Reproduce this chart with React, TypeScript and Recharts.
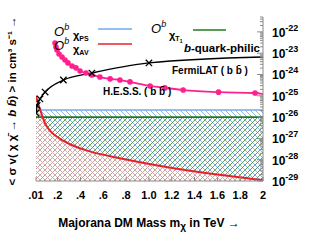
import React from 'react';
import { ComposedChart, Line, Area, XAxis, YAxis } from 'recharts';

// ---- data ----
const massTicks = [0.01, 0.2, 0.4, 0.6, 0.8, 1.0, 1.2, 1.4, 1.6, 1.8, 2.0];
const massTickLabels = ['.01', '.2', '.4', '.6', '.8', '1.0', '1.2', '1.4', '1.6', '1.8', '2'];
const decadeExponents = [-29, -28, -27, -26, -25, -24, -23, -22];

// H.E.S.S. (b b-bar)
const hessMass = [0.177, 0.185, 0.194, 0.212, 0.238, 0.264, 0.29, 0.326, 0.36, 0.396, 0.448, 0.5, 0.57, 0.66, 0.746, 0.834, 1.01, 1.14, 1.3, 1.61, 1.93, 2.0];
const hessSigma = [3.0e-23, 1.95e-23, 1.41e-23, 9.1e-24, 6.6e-24, 4.8e-24, 3.5e-24, 2.5e-24, 2.05e-24, 1.45e-24, 1.17e-24, 9.5e-25, 7.6e-25, 6.2e-25, 5.5e-25, 4.5e-25, 2.9e-25, 2.35e-25, 1.86e-25, 1.48e-25, 1.35e-25, 1.2e-25];

// FermiLAT (b b-bar)
const fermiMass = [0.01, 0.02, 0.045, 0.09, 0.25, 0.5, 1.0, 2.0];
const fermiSigma = [1.55e-26, 3.5e-26, 7.1e-26, 1.5e-25, 5.5e-25, 1.17e-24, 3.5e-24, 6.6e-24];
const fermiMarked = [true, true, true, true, true, true, true, false];

// O^b chi_AV
const avMass = [0.01, 0.019, 0.04, 0.063, 0.089, 0.159, 0.308, 0.483, 0.685, 0.92, 1.16, 1.58, 2.0];
const avSigma = [1.0e-25, 6.3e-26, 2.7e-26, 1.26e-26, 4.3e-27, 1.45e-27, 4.9e-28, 2.3e-28, 1.35e-28, 7.6e-29, 4.4e-29, 2.0e-29, 1.1e-29];

// O^b chi_PS and O^b chi_T1 (flat)
const flatMass = [0.01, 2.0];
const psSigma = [2.15e-26, 2.15e-26];
const t1Sigma = [1.0e-26, 1.0e-26];

// ---- build tables ----
const zip = (m: number[], v: number[]) => m.map((x, i) => ({ m: x, v: v[i] }));
const hessData = zip(hessMass, hessSigma);
const fermiData = fermiMass.map((x, i) => ({ m: x, v: fermiSigma[i], mark: fermiMarked[i] }));
const avData = zip(avMass, avSigma);
const psData = zip(flatMass, psSigma);
const t1Data = zip(flatMass, t1Sigma);

const Y_MIN = 1e-29;
const Y_MAX = 5e-22;
const yTicks: number[] = [];
decadeExponents.forEach((e) => {
  for (let k = 1; k <= 9; k++) {
    const v = k * Math.pow(10, e);
    if (v <= Y_MAX * 1.0001) yTicks.push(v);
  }
});
const isDecade = (v: number) => Math.abs(Math.log10(v) - Math.round(Math.log10(v))) < 1e-6;

const AXIS = '#8a8a8a';
const FONT = 'Liberation Sans, Arial, sans-serif';

const BottomTick = (props: any) => {
  const { x, y, payload } = props;
  const idx = massTicks.findIndex((t) => Math.abs(t - payload.value) < 1e-9);
  return (
    <g>
      <line x1={x} x2={x} y1={y} y2={y - 4} stroke={AXIS} />
      <text x={x} y={y + 18} textAnchor="middle" fontFamily={FONT} fontWeight="bold" fontSize={11} fill="#000">
        {idx >= 0 ? massTickLabels[idx] : ''}
      </text>
    </g>
  );
};

const TopTick = (props: any) => {
  const { x, y } = props;
  return <line x1={x} x2={x} y1={y} y2={y + 4} stroke={AXIS} />;
};

const RightTick = (props: any) => {
  const { x, y, payload } = props;
  const major = isDecade(payload.value);
  const exp = Math.round(Math.log10(payload.value));
  return (
    <g>
      <line x1={x} x2={x - (major ? 6 : 3)} y1={y} y2={y} stroke={AXIS} />
      {major ? (
        <text x={x + 9} y={y + 5} fontFamily={FONT} fontWeight="bold" fontSize={12} fill="#000">
          10<tspan dy={-6} fontSize={9}>{String(exp)}</tspan>
        </text>
      ) : null}
    </g>
  );
};

const LeftTick = (props: any) => {
  const { x, y, payload } = props;
  const major = isDecade(payload.value);
  return <line x1={x} x2={x + (major ? 6 : 3)} y1={y} y2={y} stroke={AXIS} />;
};

const HessDot = (props: any) => {
  const { cx, cy, index } = props;
  if (index === hessData.length - 1) return <g key={'h' + index} />;
  return <circle key={'h' + index} cx={cx} cy={cy} r={2.8} fill="#ff1f8e" />;
};

const FermiDot = (props: any) => {
  const { cx, cy, index, payload } = props;
  if (!payload || !payload.mark) return <g key={'f' + index} />;
  const s = 3.2;
  return (
    <g key={'f' + index} stroke="#000" strokeWidth={1.3}>
      <line x1={cx - s} y1={cy - s} x2={cx + s} y2={cy + s} />
      <line x1={cx - s} y1={cy + s} x2={cx + s} y2={cy - s} />
    </g>
  );
};

export default function App() {
  return (
    <div style={{ position: 'absolute', left: 0, top: 0, width: 334, height: 250, background: '#fff' }}>
      <ComposedChart width={334} height={250} margin={{ top: 17, right: 0, bottom: 0, left: 36 }}>
        <defs>
          <pattern id="hBlue" patternUnits="userSpaceOnUse" width="5" height="5">
            <path d="M0,0 L5,5 M-1,4 L1,6 M4,-1 L6,1" stroke="#86b6f0" strokeWidth="1" />
          </pattern>
          <pattern id="hGreen" patternUnits="userSpaceOnUse" width="5" height="5">
            <path d="M0,5 L5,0 M-1,1 L1,-1 M4,6 L6,4" stroke="#4a944a" strokeWidth="0.9" />
          </pattern>
          <pattern id="hRed" patternUnits="userSpaceOnUse" width="5" height="5">
            <path d="M0,0 L5,5 M-1,4 L1,6 M4,-1 L6,1 M0,5 L5,0 M-1,1 L1,-1 M4,6 L6,4" stroke="#f2a6a6" strokeWidth="0.7" />
          </pattern>
        </defs>
        <XAxis
          xAxisId="b"
          type="number"
          dataKey="m"
          domain={[0.01, 2]}
          ticks={massTicks}
          interval={0}
          allowDataOverflow
          height={69}
          orientation="bottom"
          stroke={AXIS}
          tickSize={0}
          tickMargin={0}
          tickLine={false}
          tick={<BottomTick />}
        />
        <XAxis
          xAxisId="t"
          type="number"
          dataKey="m"
          domain={[0.01, 2]}
          ticks={massTicks}
          interval={0}
          allowDataOverflow
          height={0}
          orientation="top"
          stroke={AXIS}
          tickSize={0}
          tickMargin={0}
          tickLine={false}
          tick={<TopTick />}
        />
        <YAxis
          yAxisId="r"
          orientation="right"
          scale="log"
          type="number"
          domain={[Y_MIN, Y_MAX]}
          ticks={yTicks}
          interval={0}
          allowDataOverflow
          width={71}
          stroke={AXIS}
          tickSize={0}
          tickMargin={0}
          tickLine={false}
          tick={<RightTick />}
        />
        <YAxis
          yAxisId="l"
          orientation="left"
          scale="log"
          type="number"
          domain={[Y_MIN, Y_MAX]}
          ticks={yTicks}
          interval={0}
          allowDataOverflow
          width={0}
          stroke={AXIS}
          tickSize={0}
          tickMargin={0}
          tickLine={false}
          tick={<LeftTick />}
        />
        <Area xAxisId="b" yAxisId="r" data={psData} dataKey="v" type="linear" baseValue={Y_MIN} fill="url(#hBlue)" fillOpacity={1} stroke="none" isAnimationActive={false} />
        <Area xAxisId="b" yAxisId="r" data={t1Data} dataKey="v" type="linear" baseValue={Y_MIN} fill="url(#hGreen)" fillOpacity={1} stroke="none" isAnimationActive={false} />
        <Area xAxisId="b" yAxisId="r" data={avData} dataKey="v" type="basis" baseValue={Y_MIN} fill="url(#hRed)" fillOpacity={1} stroke="none" isAnimationActive={false} />
        <Line xAxisId="b" yAxisId="r" data={psData} dataKey="v" type="linear" stroke="#74a9ee" strokeWidth={1.6} dot={false} isAnimationActive={false} />
        <Line xAxisId="b" yAxisId="r" data={t1Data} dataKey="v" type="linear" stroke="#1f7a1f" strokeWidth={1.6} dot={false} isAnimationActive={false} />
        <Line xAxisId="b" yAxisId="r" data={avData} dataKey="v" type="basis" stroke="#e8202a" strokeWidth={2} dot={false} isAnimationActive={false} />
        <Line xAxisId="b" yAxisId="r" data={hessData} dataKey="v" type="monotone" stroke="#ff1f8e" strokeWidth={1.8} dot={<HessDot />} isAnimationActive={false} />
        <Line xAxisId="b" yAxisId="r" data={fermiData} dataKey="v" type="monotone" stroke="#000" strokeWidth={1.4} dot={<FermiDot />} isAnimationActive={false} />
      </ComposedChart>
      <svg width={334} height={250} style={{ position: 'absolute', left: 0, top: 0, pointerEvents: 'none' }} fontFamily={FONT}>
        {/* legend */}
        <text x={54} y={36} fontSize={13} fontStyle="italic" fill="#000">O<tspan dy={-6} fontSize={9}>b</tspan></text>
        <text x={73} y={39} fontSize={11} fontWeight="bold" fill="#000">χ<tspan dy={2} fontSize={7}>PS</tspan></text>
        <line x1={98} x2={132} y1={29} y2={29} stroke="#74a9ee" strokeWidth={1.6} />
        <text x={54} y={50} fontSize={13} fontStyle="italic" fill="#000">O<tspan dy={-6} fontSize={9}>b</tspan></text>
        <text x={73} y={53} fontSize={11} fontWeight="bold" fill="#000">χ<tspan dy={2} fontSize={7}>AV</tspan></text>
        <line x1={98} x2={132} y1={44} y2={44} stroke="#e8202a" strokeWidth={1.6} />
        <text x={151} y={33} fontSize={13} fontStyle="italic" fill="#000">O<tspan dy={-6} fontSize={9}>b</tspan></text>
        <text x={169} y={39} fontSize={11} fontWeight="bold" fill="#000">χ<tspan dy={2} fontSize={7}>T</tspan><tspan dy={2} fontSize={5}>1</tspan></text>
        <line x1={193} x2={226} y1={30} y2={30} stroke="#1f7a1f" strokeWidth={1.6} />
        {/* annotations */}
        <text x={260} y={52} textAnchor="end" fontSize={11.5} fontWeight="bold" fill="#000">
          <tspan fontStyle="italic">b</tspan>-quark-philic
        </text>
        <text x={172} y={74} fontSize={10} fontWeight="bold" fill="#000">FermiLAT ( b b̄ )</text>
        <text x={103} y={95} fontSize={10} fontWeight="bold" fill="#000">H.E.S.S. ( b b̄ )</text>
        {/* axis titles */}
        <text x={149} y={227} textAnchor="middle" fontSize={12} fontWeight="bold" fill="#000">
          Majorana DM Mass m<tspan dy={3} fontSize={10}>χ</tspan><tspan dy={-3}> in TeV →</tspan>
        </text>
        <text transform="translate(16,101) rotate(-90)" textAnchor="middle" fontSize={11.5} fontWeight="bold" fill="#000">
          {'< σ v( χ χ̄ → '}<tspan fontStyle="italic">b b̄</tspan>{') > in cm³ s⁻¹ →'}
        </text>
      </svg>
    </div>
  );
}
